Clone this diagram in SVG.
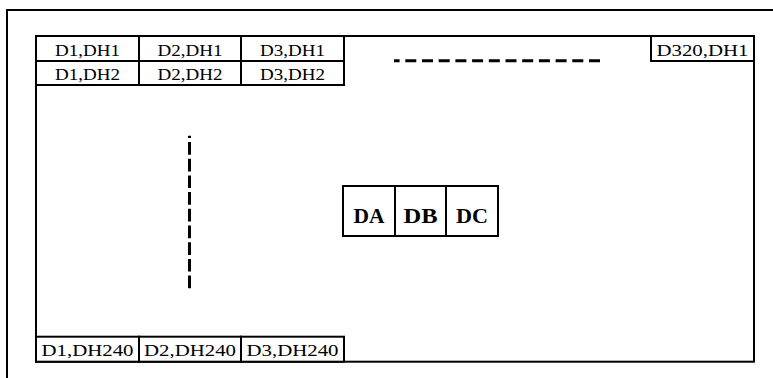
<svg xmlns="http://www.w3.org/2000/svg" width="773" height="378" viewBox="0 0 773 378">
<style>
.frame{fill:none;stroke:#000;stroke-width:2}
.cell{fill:#fff;stroke:#000;stroke-width:2}
.t{font-family:"Liberation Serif","Times New Roman",serif;font-size:17px;fill:#000;text-anchor:middle}
.tb{font-family:"Liberation Serif","Times New Roman",serif;font-size:21px;font-weight:bold;fill:#000;text-anchor:middle}
.dash{stroke:#000;stroke-width:3;fill:none}
</style>
<rect width="773" height="378" fill="#fff"/>
<g id="outer-frame"><rect class="frame" x="7" y="10" width="780" height="380"/></g>
<g id="screen"><rect class="frame" x="36" y="36" width="718" height="325.7"/></g>
<g id="c-d1-dh1"><rect class="cell" x="36" y="36" width="103" height="25"/><text class="t" x="87.5" y="55.5" textLength="65" lengthAdjust="spacingAndGlyphs">D1,DH1</text></g>
<g id="c-d2-dh1"><rect class="cell" x="139" y="36" width="102" height="25"/><text class="t" x="190" y="55.5" textLength="65" lengthAdjust="spacingAndGlyphs">D2,DH1</text></g>
<g id="c-d3-dh1"><rect class="cell" x="241" y="36" width="103" height="25"/><text class="t" x="292.5" y="55.5" textLength="65" lengthAdjust="spacingAndGlyphs">D3,DH1</text></g>
<g id="c-d1-dh2"><rect class="cell" x="36" y="61" width="103" height="24"/><text class="t" x="87.5" y="80" textLength="65" lengthAdjust="spacingAndGlyphs">D1,DH2</text></g>
<g id="c-d2-dh2"><rect class="cell" x="139" y="61" width="102" height="24"/><text class="t" x="190" y="80" textLength="65" lengthAdjust="spacingAndGlyphs">D2,DH2</text></g>
<g id="c-d3-dh2"><rect class="cell" x="241" y="61" width="103" height="24"/><text class="t" x="292.5" y="80" textLength="65" lengthAdjust="spacingAndGlyphs">D3,DH2</text></g>
<g id="c-d320-dh1"><rect class="cell" x="651" y="36" width="103" height="25"/><text class="t" x="702.5" y="55.5" textLength="92" lengthAdjust="spacingAndGlyphs">D320,DH1</text></g>
<g id="c-d1-dh240"><rect class="cell" x="36" y="336.7" width="103" height="25"/><text class="t" x="87.5" y="355.5" textLength="92" lengthAdjust="spacingAndGlyphs">D1,DH240</text></g>
<g id="c-d2-dh240"><rect class="cell" x="139" y="336.7" width="102" height="25"/><text class="t" x="190" y="355.5" textLength="92" lengthAdjust="spacingAndGlyphs">D2,DH240</text></g>
<g id="c-d3-dh240"><rect class="cell" x="241" y="336.7" width="103" height="25"/><text class="t" x="292.5" y="355.5" textLength="92" lengthAdjust="spacingAndGlyphs">D3,DH240</text></g>
<g id="da"><rect class="cell" x="343" y="186" width="52" height="50"/><text class="tb" x="369" y="223" textLength="31" lengthAdjust="spacingAndGlyphs">DA</text></g>
<g id="db"><rect class="cell" x="395" y="186" width="51" height="50"/><text class="tb" x="420.5" y="223" textLength="34" lengthAdjust="spacingAndGlyphs">DB</text></g>
<g id="dc"><rect class="cell" x="446" y="186" width="52" height="50"/><text class="tb" x="472" y="223" textLength="32" lengthAdjust="spacingAndGlyphs">DC</text></g>
<g id="connectors">
<line class="dash" x1="600" y1="60.7" x2="394" y2="60.7" stroke-dasharray="11 5.7"/>
<line class="dash" x1="189.5" y1="288.3" x2="189.5" y2="135.7" stroke-dasharray="12.7 4"/>
</g>
</svg>
